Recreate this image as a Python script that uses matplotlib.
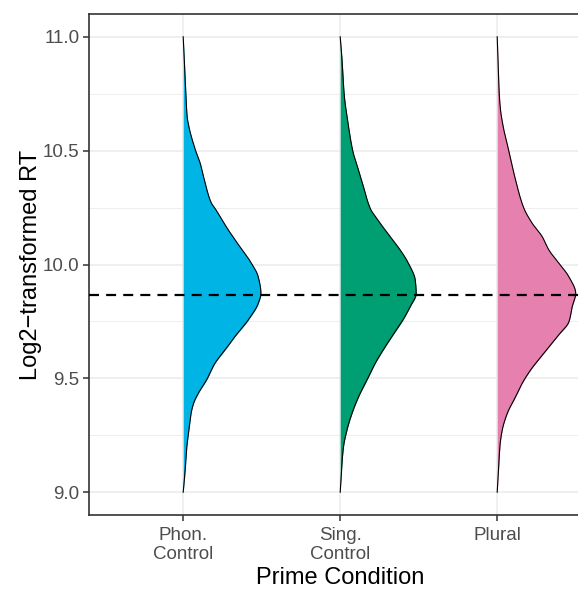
import numpy as np
import matplotlib
matplotlib.use("Agg")
import matplotlib.pyplot as plt

# ---- data ----
categories = ["Phon.\nControl", "Sing.\nControl", "Plural"]
colors = ["#00B4E5", "#009E73", "#E580AF"]

phon_y = [11.0, 10.886, 10.75, 10.65, 10.606, 10.496, 10.445, 10.357, 10.269, 10.247,
          10.152, 10.078, 10.005, 9.946, 9.873, 9.829, 9.756, 9.683, 9.624, 9.566,
          9.492, 9.434, 9.39, 9.346, 9.273, 9.185, 9.082, 9.0]
phon_w = [0, 0.008, 0.017, 0.025, 0.036, 0.081, 0.108, 0.140, 0.180, 0.202,
          0.287, 0.361, 0.435, 0.478, 0.495, 0.478, 0.414, 0.329, 0.266, 0.202,
          0.148, 0.096, 0.066, 0.050, 0.036, 0.021, 0.011, 0]

sing_y = [11.0, 10.886, 10.75, 10.606, 10.496, 10.415, 10.342, 10.247, 10.181, 10.122,
          10.064, 10.005, 9.932, 9.873, 9.815, 9.749, 9.712, 9.639, 9.566, 9.492,
          9.419, 9.346, 9.273, 9.2, 9.126, 9.0]
sing_w = [0, 0.013, 0.025, 0.053, 0.081, 0.117, 0.148, 0.191, 0.255, 0.318,
          0.382, 0.435, 0.478, 0.484, 0.446, 0.393, 0.357, 0.287, 0.223, 0.170,
          0.117, 0.075, 0.043, 0.021, 0.011, 0]

plural_y = [11.0, 10.886, 10.75, 10.679, 10.606, 10.496, 10.371, 10.247, 10.181, 10.122,
            10.064, 10.005, 9.946, 9.873, 9.815, 9.749, 9.683, 9.610, 9.536, 9.478,
            9.419, 9.346, 9.273, 9.2, 9.126, 9.0]
plural_w = [0, 0.006, 0.013, 0.021, 0.038, 0.075, 0.117, 0.170, 0.223, 0.287,
            0.329, 0.393, 0.457, 0.500, 0.478, 0.457, 0.382, 0.297, 0.212, 0.159,
            0.117, 0.064, 0.032, 0.017, 0.011, 0]

grand_mean = 9.866
y_ticks = [9.0, 9.5, 10.0, 10.5, 11.0]
y_tick_labels = ["9.0", "9.5", "10.0", "10.5", "11.0"]
y_minor = [9.25, 9.75, 10.25, 10.75]


def pchip(x, y, xn):
    x = np.asarray(x, float); y = np.asarray(y, float)
    h = np.diff(x); d = np.diff(y) / h
    n = len(x); m = np.zeros(n)
    for k in range(1, n - 1):
        if d[k - 1] * d[k] > 0:
            w1 = 2 * h[k] + h[k - 1]; w2 = h[k] + 2 * h[k - 1]
            m[k] = (w1 + w2) / (w1 / d[k - 1] + w2 / d[k])
    m[0] = d[0]; m[-1] = d[-1]
    idx = np.clip(np.searchsorted(x, xn) - 1, 0, n - 2)
    t = (xn - x[idx]) / h[idx]
    h00 = 2 * t**3 - 3 * t**2 + 1; h10 = t**3 - 2 * t**2 + t
    h01 = -2 * t**3 + 3 * t**2; h11 = t**3 - t**2
    return h00 * y[idx] + h10 * h[idx] * m[idx] + h01 * y[idx + 1] + h11 * h[idx] * m[idx + 1]


plt.rcParams['font.family'] = ['Liberation Sans', 'DejaVu Sans']
fig = plt.figure(figsize=(5.78, 5.90), dpi=100)
# panel runs past the right edge of the figure (cropped like the reference)
ax = fig.add_axes([89 / 578, 75 / 590, 502.4 / 578, 501 / 590])

ax.set_xlim(0.4, 3.6)
ax.set_ylim(8.9, 11.1)

for v in y_ticks:
    ax.axhline(v, color="#EBEBEB", lw=1.1, zorder=0)
for v in y_minor:
    ax.axhline(v, color="#EBEBEB", lw=0.6, zorder=0)
for i in range(len(categories)):
    ax.axvline(i + 1, color="#EBEBEB", lw=1.1, zorder=0)

groups = [(phon_y, phon_w), (sing_y, sing_w), (plural_y, plural_w)]
for i, (ys, ws) in enumerate(groups):
    ys = np.asarray(ys)[::-1]; ws = np.asarray(ws)[::-1]
    yf = np.linspace(ys[0], ys[-1], 600)
    wf = np.clip(pchip(ys, ws, yf), 0, None)
    x0 = i + 1
    ax.fill_betweenx(yf, x0, x0 + wf, color=colors[i], lw=0, zorder=2)
    ax.plot(x0 + wf, yf, color="black", lw=0.8, zorder=3)

ax.axhline(grand_mean, color="black", lw=1.6, linestyle=(0, (4.5, 3.2)), zorder=4)

ax.set_xticks(range(1, len(categories) + 1))
ax.set_xticklabels(categories, fontsize=13.5, color="#4D4D4D", linespacing=1.17)
ax.set_yticks(y_ticks)
ax.set_yticklabels(y_tick_labels, fontsize=13.5, color="#4D4D4D")
ax.tick_params(axis="both", length=4, width=1.1, color="#333333")
ax.tick_params(axis="x", pad=4.5)
ax.tick_params(axis="y", pad=3)

ax.set_xlabel("Prime Condition", fontsize=17, labelpad=3)
ax.set_ylabel("Log2\u2212transformed RT", fontsize=17, labelpad=0.5)

for s in ["left", "top", "bottom", "right"]:
    ax.spines[s].set_color("#333333")
    ax.spines[s].set_linewidth(1.2)

fig.savefig("out.png", dpi=100)
